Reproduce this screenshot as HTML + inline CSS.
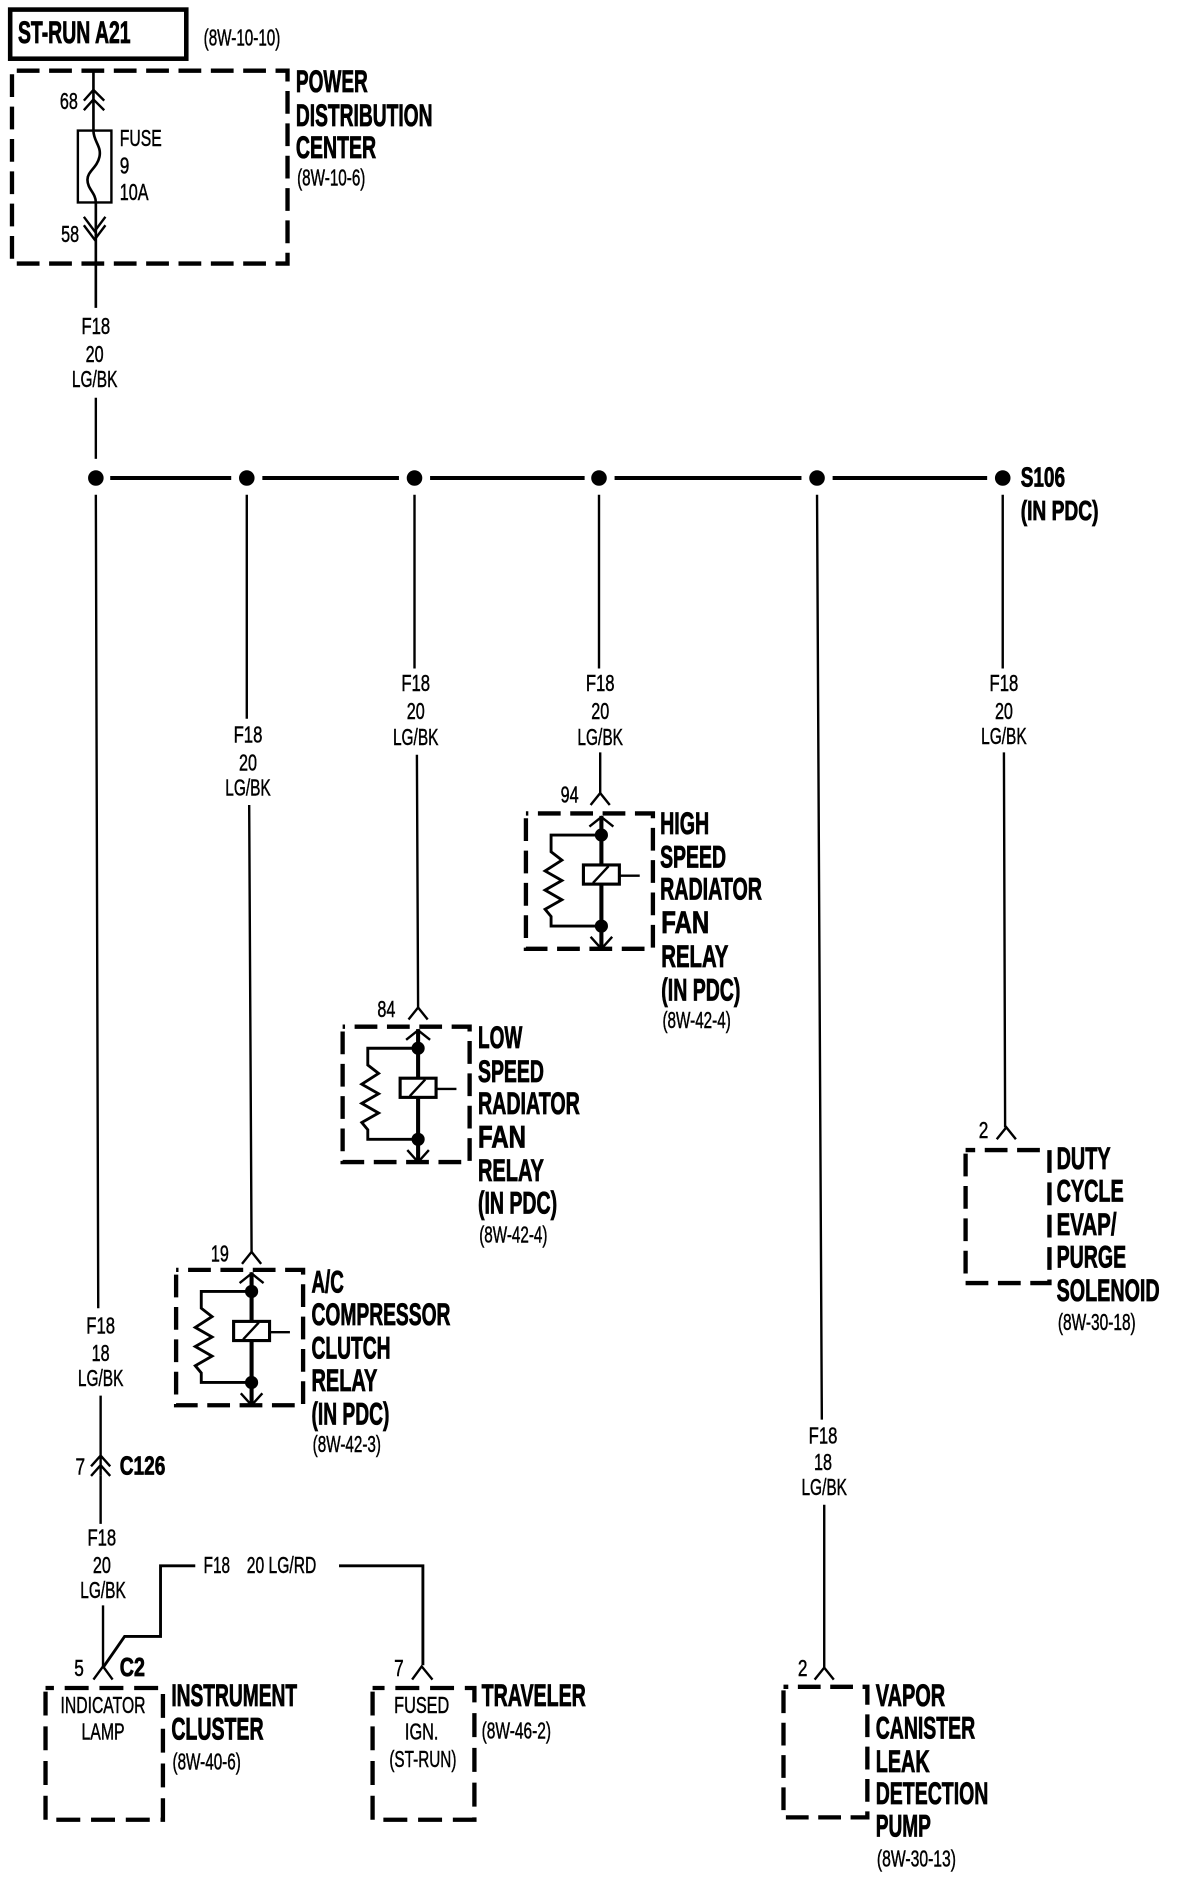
<!DOCTYPE html>
<html>
<head>
<meta charset="utf-8">
<style>
html,body{margin:0;padding:0;background:#fff;width:1184px;height:1878px;overflow:hidden}
svg{display:block}
text{font-family:"Liberation Sans",sans-serif;fill:#000;stroke:#000}
.b{font-weight:bold;font-size:26px;stroke-width:.7}
.s{font-size:19px;stroke-width:.4}
.m{text-anchor:middle}
.w{stroke:#000;fill:none;stroke-width:2}
.h{stroke:#000;fill:none;stroke-width:3.4}
.d{stroke:#000;fill:none;stroke-width:3.6;stroke-dasharray:19 8}
.c{stroke:#000;fill:none;stroke-width:2}
</style>
</head>
<body>
<svg width="1184" height="1878" viewBox="0 0 1184 1878" xmlns="http://www.w3.org/2000/svg">
<defs>
<g id="relay">
<path class="d" d="M-63 4V113H43V0H-63"/>
<path class="h" d="M0 2V112"/>
<path class="c" d="M-10 11L0 3L10 11M-9 103L0 113L9 103"/>
<circle cx="0" cy="18" r="5.5"/><circle cx="0" cy="94" r="5.5"/>
<path class="c" style="stroke-width:2.4" d="M0 18H-42V32L-33 39L-47 48L-33 56L-47 64L-33 72L-47 80L-42 86V94H0"/>
<rect x="-15" y="43" width="30" height="16" fill="#fff" stroke="#000" stroke-width="2.6"/>
<path class="c" d="M-7 58L6 44M15 52H32"/>
</g>
</defs>
<g transform="scale(1.198,1.198)">
<!-- top -->
<rect x="8.5" y="8" width="147" height="41" fill="none" stroke="#000" stroke-width="3.8"/>
<text class="b" x="15" y="36" textLength="94" lengthAdjust="spacingAndGlyphs">ST-RUN A21</text>
<text class="s" x="170" y="38" textLength="64" lengthAdjust="spacingAndGlyphs">(8W-10-10)</text>
<path class="d" d="M10 62V220H240V59H10"/>
<text class="b" x="247" y="77" textLength="60" lengthAdjust="spacingAndGlyphs">POWER</text>
<text class="b" x="247" y="105" textLength="114" lengthAdjust="spacingAndGlyphs">DISTRIBUTION</text>
<text class="b" x="247" y="132" textLength="67" lengthAdjust="spacingAndGlyphs">CENTER</text>
<text class="s" x="248" y="155" textLength="57" lengthAdjust="spacingAndGlyphs">(8W-10-6)</text>
<text class="s" x="50" y="91" textLength="15" lengthAdjust="spacingAndGlyphs">68</text>
<text class="s" x="51" y="202" textLength="15" lengthAdjust="spacingAndGlyphs">58</text>
<text class="s" x="100" y="122" textLength="35" lengthAdjust="spacingAndGlyphs">FUSE</text>
<text class="s" x="100" y="145" textLength="8" lengthAdjust="spacingAndGlyphs">9</text>
<text class="s" x="100" y="167" textLength="24" lengthAdjust="spacingAndGlyphs">10A</text>
<rect x="65" y="109" width="28" height="60" fill="none" stroke="#000" stroke-width="2"/>
<path class="c" d="M78 58V109C78 118 85 122 83 131C81 140 73 143 73 150C73 158 80 161 80 169V257" style="stroke-width:2.2"/>
<path class="c" d="M70 84L78 75L87 84M70 92L78 83L87 92M70 188L79 200L88 188M70 181L79 193L88 181"/>
<text class="s m" x="80" y="279" textLength="24" lengthAdjust="spacingAndGlyphs">F18</text>
<text class="s m" x="79" y="302" textLength="15" lengthAdjust="spacingAndGlyphs">20</text>
<text class="s m" x="79" y="323" textLength="38" lengthAdjust="spacingAndGlyphs">LG/BK</text>
<path class="w" d="M80 332V383"/>
<!-- bus -->
<circle cx="80" cy="399" r="6.5"/><circle cx="206" cy="399" r="6.5"/><circle cx="346" cy="399" r="6.5"/><circle cx="500" cy="399" r="6.5"/><circle cx="682" cy="399" r="6.5"/><circle cx="837" cy="399" r="6.5"/>
<path class="h" d="M92 399H193M219 399H333M359 399H488M513 399H669M695 399H824"/>
<text class="b" x="852" y="406" textLength="37" lengthAdjust="spacingAndGlyphs" style="font-size:23px">S106</text>
<text class="b" x="852" y="434" textLength="65" lengthAdjust="spacingAndGlyphs" style="font-size:23px">(IN PDC)</text>
<!-- branch 1 -->
<path class="w" d="M80 413L82 1092M84 1165V1212M84 1232V1272M86 1340V1392"/>
<text class="s m" x="84" y="1113" textLength="24" lengthAdjust="spacingAndGlyphs">F18</text>
<text class="s m" x="84" y="1136" textLength="15" lengthAdjust="spacingAndGlyphs">18</text>
<text class="s m" x="84" y="1157" textLength="38" lengthAdjust="spacingAndGlyphs">LG/BK</text>
<path class="c" d="M76 1224L84 1215L92 1224M76 1232L84 1223L92 1232M84 1212V1232"/>
<text class="s" x="63" y="1231" textLength="8" lengthAdjust="spacingAndGlyphs">7</text>
<text class="b" x="100" y="1231" textLength="38" lengthAdjust="spacingAndGlyphs" style="font-size:22px">C126</text>
<text class="s m" x="85" y="1290" textLength="24" lengthAdjust="spacingAndGlyphs">F18</text>
<text class="s m" x="85" y="1313" textLength="15" lengthAdjust="spacingAndGlyphs">20</text>
<text class="s m" x="86" y="1334" textLength="38" lengthAdjust="spacingAndGlyphs">LG/BK</text>
<!-- bottom -->
<path class="c" d="M78 1402L86 1391L94 1402"/>
<path class="c" style="stroke-width:2.4" d="M86 1392L104 1366H134V1307H163M283 1307H353V1390"/>
<text class="s" x="170" y="1313" textLength="22" lengthAdjust="spacingAndGlyphs">F18</text>
<text class="s" x="206" y="1313" textLength="58" lengthAdjust="spacingAndGlyphs">20 LG/RD</text>
<text class="s" x="62" y="1399" textLength="8" lengthAdjust="spacingAndGlyphs">5</text>
<text class="b" x="100" y="1399" textLength="21" lengthAdjust="spacingAndGlyphs" style="font-size:22px">C2</text>
<path class="d" style="stroke-dasharray:20 9" d="M38 1412V1519H136V1409H38"/>
<text class="s m" x="86" y="1430" textLength="71" lengthAdjust="spacingAndGlyphs">INDICATOR</text>
<text class="s m" x="86" y="1452" textLength="36" lengthAdjust="spacingAndGlyphs">LAMP</text>
<text class="b" x="143" y="1424" textLength="105" lengthAdjust="spacingAndGlyphs">INSTRUMENT</text>
<text class="b" x="143" y="1452" textLength="77" lengthAdjust="spacingAndGlyphs">CLUSTER</text>
<text class="s" x="144" y="1477" textLength="57" lengthAdjust="spacingAndGlyphs">(8W-40-6)</text>
<text class="s" x="329" y="1399" textLength="8" lengthAdjust="spacingAndGlyphs">7</text>
<path class="c" d="M344 1402L352 1391L361 1402"/>
<path class="d" style="stroke-dasharray:20 9" d="M311 1412V1519H396V1409H311"/>
<text class="s m" x="352" y="1430" textLength="46" lengthAdjust="spacingAndGlyphs">FUSED</text>
<text class="s m" x="352" y="1452" textLength="28" lengthAdjust="spacingAndGlyphs">IGN.</text>
<text class="s m" x="353" y="1475" textLength="56" lengthAdjust="spacingAndGlyphs">(ST-RUN)</text>
<text class="b" x="402" y="1424" textLength="87" lengthAdjust="spacingAndGlyphs">TRAVELER</text>
<text class="s" x="402" y="1451" textLength="58" lengthAdjust="spacingAndGlyphs">(8W-46-2)</text>
<!-- A/C -->
<path class="w" d="M206 413V600M208 672L210 1045"/>
<text class="s m" x="207" y="620" textLength="24" lengthAdjust="spacingAndGlyphs">F18</text>
<text class="s m" x="207" y="643" textLength="15" lengthAdjust="spacingAndGlyphs">20</text>
<text class="s m" x="207" y="664" textLength="38" lengthAdjust="spacingAndGlyphs">LG/BK</text>
<text class="s" x="176" y="1053" textLength="15" lengthAdjust="spacingAndGlyphs">19</text>
<path class="c" d="M202 1055L210 1045L218 1055"/>
<use href="#relay" x="210" y="1060"/>
<text class="b" x="260" y="1079" textLength="27" lengthAdjust="spacingAndGlyphs">A/C</text>
<text class="b" x="260" y="1106" textLength="116" lengthAdjust="spacingAndGlyphs">COMPRESSOR</text>
<text class="b" x="260" y="1134" textLength="66" lengthAdjust="spacingAndGlyphs">CLUTCH</text>
<text class="b" x="260" y="1161" textLength="55" lengthAdjust="spacingAndGlyphs">RELAY</text>
<text class="b" x="260" y="1189" textLength="65" lengthAdjust="spacingAndGlyphs">(IN PDC)</text>
<text class="s" x="261" y="1212" textLength="57" lengthAdjust="spacingAndGlyphs">(8W-42-3)</text>
<!-- Low -->
<path class="w" d="M346 413V558M348 630L349 842"/>
<text class="s m" x="347" y="577" textLength="24" lengthAdjust="spacingAndGlyphs">F18</text>
<text class="s m" x="347" y="600" textLength="15" lengthAdjust="spacingAndGlyphs">20</text>
<text class="s m" x="347" y="622" textLength="38" lengthAdjust="spacingAndGlyphs">LG/BK</text>
<text class="s" x="315" y="849" textLength="15" lengthAdjust="spacingAndGlyphs">84</text>
<path class="c" d="M341 851L349 841L357 851"/>
<use href="#relay" x="349" y="857"/>
<text class="b" x="399" y="875" textLength="37" lengthAdjust="spacingAndGlyphs">LOW</text>
<text class="b" x="399" y="903" textLength="55" lengthAdjust="spacingAndGlyphs">SPEED</text>
<text class="b" x="399" y="930" textLength="85" lengthAdjust="spacingAndGlyphs">RADIATOR</text>
<text class="b" x="399" y="958" textLength="40" lengthAdjust="spacingAndGlyphs">FAN</text>
<text class="b" x="399" y="986" textLength="55" lengthAdjust="spacingAndGlyphs">RELAY</text>
<text class="b" x="399" y="1013" textLength="66" lengthAdjust="spacingAndGlyphs">(IN PDC)</text>
<text class="s" x="400" y="1037" textLength="57" lengthAdjust="spacingAndGlyphs">(8W-42-4)</text>
<!-- High -->
<path class="w" d="M500 413V558M501 628V662"/>
<text class="s m" x="501" y="577" textLength="24" lengthAdjust="spacingAndGlyphs">F18</text>
<text class="s m" x="501" y="600" textLength="15" lengthAdjust="spacingAndGlyphs">20</text>
<text class="s m" x="501" y="622" textLength="38" lengthAdjust="spacingAndGlyphs">LG/BK</text>
<text class="s" x="468" y="670" textLength="15" lengthAdjust="spacingAndGlyphs">94</text>
<path class="c" d="M493 672L501 662L509 672"/>
<use href="#relay" x="502" y="679"/>
<text class="b" x="551" y="696" textLength="41" lengthAdjust="spacingAndGlyphs">HIGH</text>
<text class="b" x="551" y="724" textLength="55" lengthAdjust="spacingAndGlyphs">SPEED</text>
<text class="b" x="551" y="751" textLength="85" lengthAdjust="spacingAndGlyphs">RADIATOR</text>
<text class="b" x="552" y="779" textLength="40" lengthAdjust="spacingAndGlyphs">FAN</text>
<text class="b" x="552" y="807" textLength="56" lengthAdjust="spacingAndGlyphs">RELAY</text>
<text class="b" x="552" y="835" textLength="66" lengthAdjust="spacingAndGlyphs">(IN PDC)</text>
<text class="s" x="553" y="858" textLength="57" lengthAdjust="spacingAndGlyphs">(8W-42-4)</text>
<!-- Vapor -->
<path class="w" d="M682 413L686 1185M688 1256V1392"/>
<text class="s m" x="687" y="1205" textLength="24" lengthAdjust="spacingAndGlyphs">F18</text>
<text class="s m" x="687" y="1227" textLength="15" lengthAdjust="spacingAndGlyphs">18</text>
<text class="s m" x="688" y="1248" textLength="38" lengthAdjust="spacingAndGlyphs">LG/BK</text>
<text class="s" x="666" y="1399" textLength="8" lengthAdjust="spacingAndGlyphs">2</text>
<path class="c" d="M680 1402L688 1392L696 1402"/>
<path class="d" d="M654 1411V1517H724V1408H654"/>
<text class="b" x="731" y="1424" textLength="58" lengthAdjust="spacingAndGlyphs">VAPOR</text>
<text class="b" x="731" y="1451" textLength="83" lengthAdjust="spacingAndGlyphs">CANISTER</text>
<text class="b" x="731" y="1479" textLength="45" lengthAdjust="spacingAndGlyphs">LEAK</text>
<text class="b" x="731" y="1506" textLength="94" lengthAdjust="spacingAndGlyphs">DETECTION</text>
<text class="b" x="731" y="1533" textLength="46" lengthAdjust="spacingAndGlyphs">PUMP</text>
<text class="s" x="732" y="1558" textLength="66" lengthAdjust="spacingAndGlyphs">(8W-30-13)</text>
<!-- Duty -->
<path class="w" d="M837 413V558M838 628L839 941"/>
<text class="s m" x="838" y="577" textLength="24" lengthAdjust="spacingAndGlyphs">F18</text>
<text class="s m" x="838" y="600" textLength="15" lengthAdjust="spacingAndGlyphs">20</text>
<text class="s m" x="838" y="621" textLength="38" lengthAdjust="spacingAndGlyphs">LG/BK</text>
<text class="s" x="817" y="950" textLength="8" lengthAdjust="spacingAndGlyphs">2</text>
<path class="c" d="M832 951L840 941L848 951"/>
<path class="d" d="M806 963V1071H876V960H806"/>
<text class="b" x="882" y="976" textLength="45" lengthAdjust="spacingAndGlyphs">DUTY</text>
<text class="b" x="882" y="1003" textLength="56" lengthAdjust="spacingAndGlyphs">CYCLE</text>
<text class="b" x="882" y="1031" textLength="50" lengthAdjust="spacingAndGlyphs">EVAP/</text>
<text class="b" x="882" y="1058" textLength="58" lengthAdjust="spacingAndGlyphs">PURGE</text>
<text class="b" x="882" y="1086" textLength="86" lengthAdjust="spacingAndGlyphs">SOLENOID</text>
<text class="s" x="883" y="1110" textLength="65" lengthAdjust="spacingAndGlyphs">(8W-30-18)</text>
</g>
</svg>
</body>
</html>
